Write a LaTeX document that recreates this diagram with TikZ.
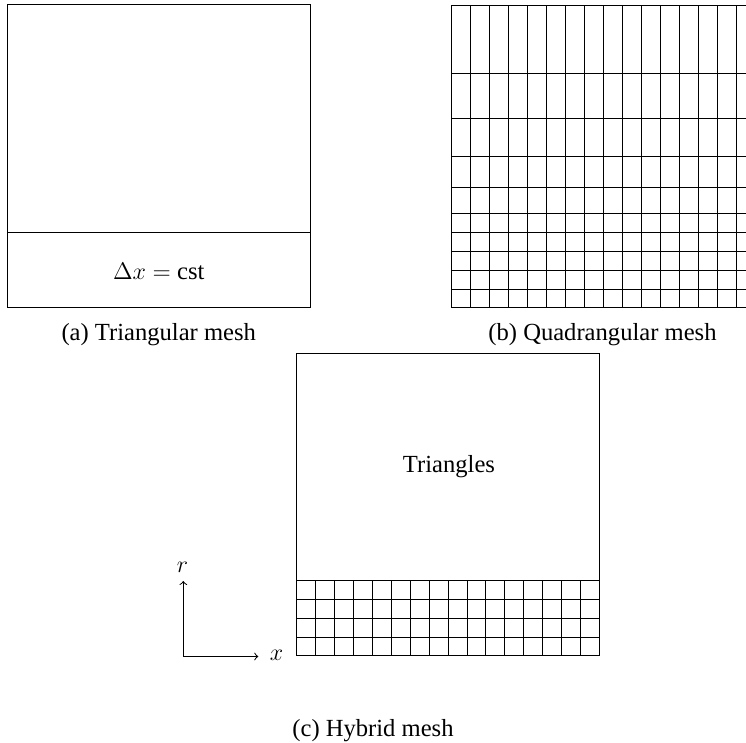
\documentclass[tikz,border=0pt]{standalone}
\usepackage[no-math]{fontspec}
\setmainfont{Liberation Serif}
\begin{document}
\begin{tikzpicture}[x=0.5pt,y=-0.5pt,
  mesh/.style={line width=0.5pt, black},
  axis/.style={line width=0.5pt, black, ->},
  lbl/.style={font=\fontsize{12.3}{15}\selectfont, inner sep=0pt}]
\useasboundingbox (0,0) rectangle (746,743);
% (a) triangular mesh
\draw[mesh] (7.5,5) rectangle (310,307.5);
\draw[mesh] (7.5,232.3) -- (310,232.3);
\node[lbl, anchor=base] (dx) at (158.75,280) {$\Delta x =$ cst};
\node[lbl, anchor=base] (capa) at (158.75,341) {(a) Triangular mesh};
% (b) quadrangular mesh
\begin{scope}
\clip (0,0) rectangle (746,743);
\foreach \i in {0,...,16} \draw[mesh] ({451+19*\i},5.3) -- ({451+19*\i},307.3);
\foreach \yy in {5.3,73.3,119,156.7,187.7,213.3,232.7,251.7,270.7,289.3,307.3}
  \draw[mesh] (451,\yy) -- (755,\yy);
\end{scope}
\node[lbl, anchor=base] (capb) at (602.5,341) {(b) Quadrangular mesh};
% (c) hybrid mesh
\draw[mesh] (296.7,354) rectangle (599.5,656);
\foreach \yy in {581,600,619,638} \draw[mesh] (296.7,\yy) -- (599.5,\yy);
\foreach \i in {1,...,15} \draw[mesh] ({296.7+18.925*\i},581) -- ({296.7+18.925*\i},656);
\node[lbl, anchor=base] (tri) at (449,473) {Triangles};
\node[lbl, anchor=base] (capc) at (373,737) {(c) Hybrid mesh};
% axes
\coordinate (o) at (183.3,656.5);
\coordinate (xe) at (258.3,656.5);
\coordinate (re) at (183.3,581);
\draw[axis] (o) -- (xe);
\draw[axis] (o) -- (re);
\node[lbl, anchor=base west] (xl) at (269.5,660.5) {$x$};
\node[lbl, anchor=base] (rl) at (182.5,572.3) {$r$};
\end{tikzpicture}
\end{document}
